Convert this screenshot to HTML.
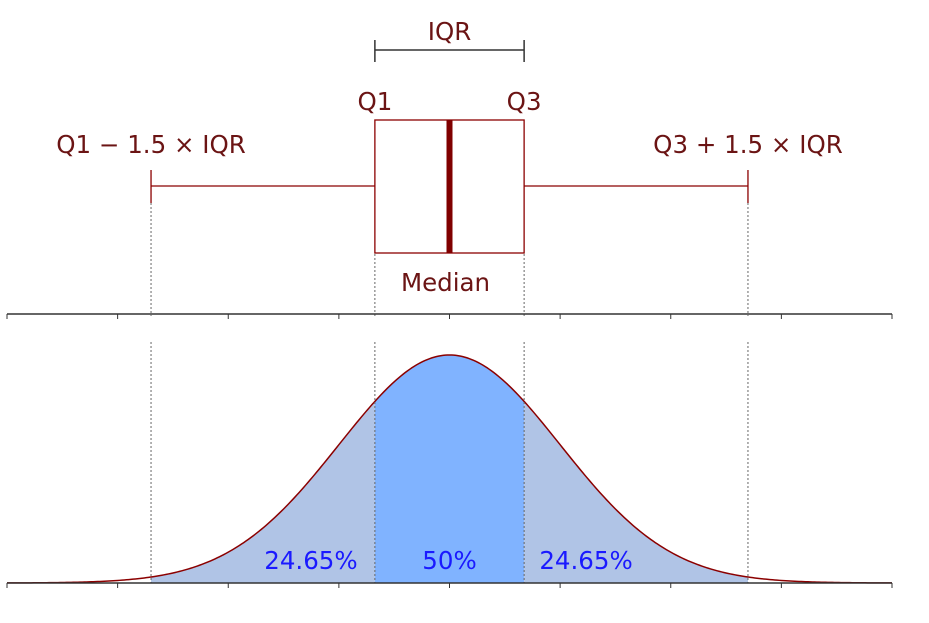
<!DOCTYPE html>
<html><head><meta charset="utf-8"><style>
body{margin:0;background:#fff}
svg{display:block;font-family:"DejaVu Sans","Liberation Sans",sans-serif}
</style></head><body>
<svg id="chart" width="929" height="623" viewBox="0 0 929 623"></svg>
<script>
// data (in units of standard deviations)
const xRange = [-4, 4];
const tickValues = [-4, -3, -2, -1, 0, 1, 2, 3, 4];
const quartiles = [-0.6745, 0, 0.6745];          // Q1, median, Q3
const whiskers = [-2.698, 2.698];
const regionLabels = ["24.65%", "50%", "24.65%"];
const distParams = [0, 1];                         // mean, sd

const NS = "http://www.w3.org/2000/svg";
const svg = document.getElementById("chart");
const X0 = 7, X1 = 892;
const sx = v => X0 + (v - xRange[0]) / (xRange[1] - xRange[0]) * (X1 - X0);
const baseY = 583, peakY = 355;
const pdf = v => Math.exp(-0.5 * ((v - distParams[0]) / distParams[1]) ** 2);
const sy = v => baseY - pdf(v) * (baseY - peakY);
function mk(tag, attrs, parent) {
  const e = document.createElementNS(NS, tag);
  for (const k in attrs) e.setAttribute(k, attrs[k]);
  (parent || svg).appendChild(e);
  return e;
}
const dark = "#6b1414", red = "#8b0000";

function areaPath(a, b) {
  let d = `M${sx(a)},${baseY}`;
  const n = 120;
  for (let i = 0; i <= n; i++) { const v = a + (b - a) * i / n; d += `L${sx(v)},${sy(v)}`; }
  return d + `L${sx(b)},${baseY}Z`;
}
const regions = [[whiskers[0], quartiles[0], "#b0c4e6"], [quartiles[0], quartiles[2], "#80b3ff"], [quartiles[2], whiskers[1], "#b0c4e6"]];
regions.forEach((r, i) => {
  const p = mk("path", { d: areaPath(r[0], r[1]), fill: r[2] });
  
  
});
let cd = "";
for (let i = 0; i <= 400; i++) { const v = xRange[0] + (xRange[1] - xRange[0]) * i / 400; cd += (i ? "L" : "M") + sx(v) + "," + sy(v); }
const curve = mk("path", { d: cd, fill: "none", stroke: red, "stroke-width": 1.5 });



const guides = [whiskers[0], quartiles[0], quartiles[2], whiskers[1]];
guides.forEach((v, i) => {
  const top = (i === 0 || i === 3) ? 203 : 254;
  [[top, 316], [342, baseY]].forEach(seg => {
    const l = mk("line", { x1: sx(v), x2: sx(v), y1: seg[0], y2: seg[1], stroke: "#666", "stroke-width": 1, "stroke-dasharray": "2,2" });
    
    
  });
});

[314, 583].forEach((y, j) => {
  const a = mk("line", { x1: X0, x2: X1, y1: y, y2: y, stroke: "#333", "stroke-width": 1.5 });
  
  
  tickValues.forEach(t => {
    const tk = mk("line", { x1: sx(t), x2: sx(t), y1: y, y2: y + 5, stroke: "#333", "stroke-width": 1 });
    
    
  });
});

const wy = 186;
const w1 = mk("line", { x1: sx(whiskers[0]), x2: sx(quartiles[0]), y1: wy, y2: wy, stroke: red, "stroke-width": 1.3 });
 
const w2 = mk("line", { x1: sx(quartiles[2]), x2: sx(whiskers[1]), y1: wy, y2: wy, stroke: red, "stroke-width": 1.3 });
 
whiskers.forEach(v => {
  const c = mk("line", { x1: sx(v), x2: sx(v), y1: 170, y2: 203, stroke: red, "stroke-width": 1.3 });
   
});
const box = mk("rect", { x: sx(quartiles[0]), y: 120, width: sx(quartiles[2]) - sx(quartiles[0]), height: 133, fill: "#fff", stroke: red, "stroke-width": 1.3 });
 
const med = mk("line", { x1: sx(quartiles[1]), x2: sx(quartiles[1]), y1: 120, y2: 253, stroke: "#800000", "stroke-width": 6 });
 

const bk = mk("path", { d: `M${sx(quartiles[0])},40V62M${sx(quartiles[0])},50H${sx(quartiles[2])}M${sx(quartiles[2])},40V62`, fill: "none", stroke: "#333", "stroke-width": 1.5 });
 

function txt(s, x, y, fill, name) {
  const t = mk("text", { x: x, y: y, "text-anchor": "middle", "font-size": 24.5, fill: fill });
  t.textContent = s;
  
  
}
txt("IQR", sx(quartiles[1]), 40, dark, "iqr-label");
txt("Q1", sx(quartiles[0]), 110, dark, "q1-label");
txt("Q3", sx(quartiles[2]), 110, dark, "q3-label");
txt("Q1 \u2212 1.5 \u00d7 IQR", sx(whiskers[0]), 153, dark, "lower-fence-label");
txt("Q3 + 1.5 \u00d7 IQR", sx(whiskers[1]), 153, dark, "upper-fence-label");
txt("Median", sx(quartiles[1]) - 4, 291, dark, "median-label");
const labelX = [(sx(whiskers[0]) + sx(quartiles[0])) / 2 + 48, sx(quartiles[1]), (sx(quartiles[2]) + sx(whiskers[1])) / 2 - 50];
regionLabels.forEach((s, i) => txt(s, labelX[i], 569, "#1a1aff", "region-label-" + i));
</script>
</body></html>
